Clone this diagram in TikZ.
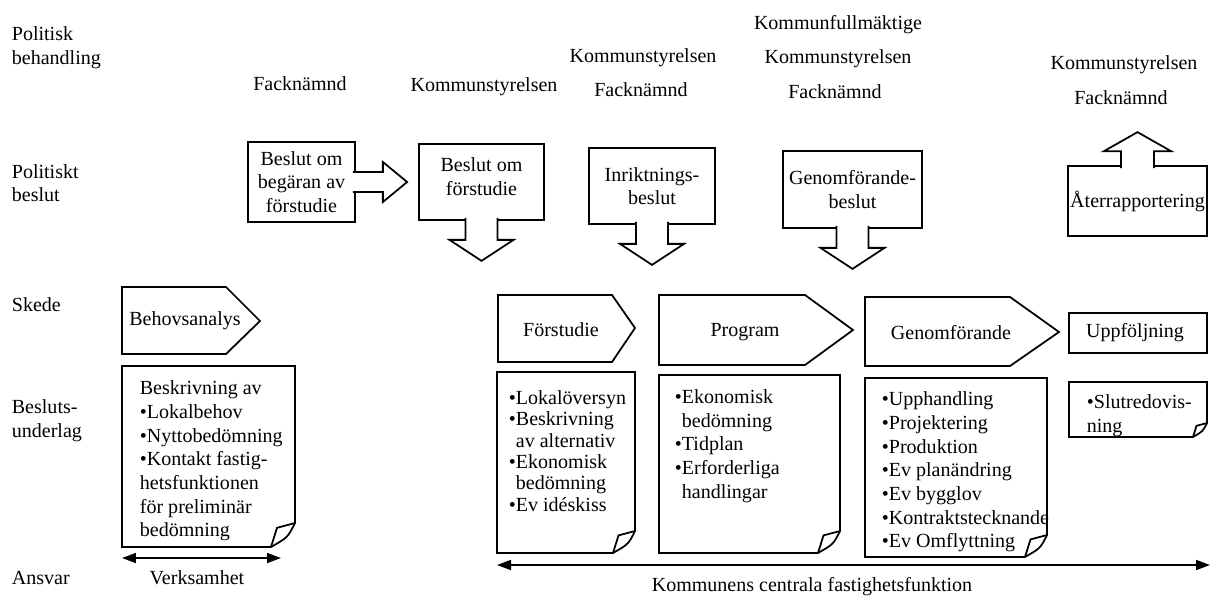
\documentclass[tikz,border=0pt]{standalone}
\usepackage{fontspec}
\setmainfont{Liberation Serif}
\usetikzlibrary{calc,arrows.meta}

\begin{document}
\begin{tikzpicture}[x=0.02cm, y=-0.02cm, line width=1pt,
  font=\fontsize{11.4}{13.45}\selectfont]
  \tikzstyle{rubrik}=[anchor=west, align=left, inner sep=0pt]
  \tikzstyle{organ}=[inner sep=0pt]
  \tikzstyle{beslut}=[draw, inner sep=0pt, align=center]
  \tikzstyle{blk}=[draw, fill=white]
  \tikzstyle{skede}=[draw]
  \tikzstyle{lista}=[anchor=west, align=left, inner sep=0pt]
  \tikzstyle{ansvar}=[{Triangle[length=2.8mm,width=2mm]}-{Triangle[length=2.8mm,width=2mm]}]

  \useasboundingbox (0,0) rectangle (1212,598);

  \node[rubrik] (polbeh) at (11,48) {Politisk\\behandling};
  \node[rubrik] (polbes) at (11,183) {Politiskt\\beslut};
  \node[rubrik] (skede) at (11,305) {Skede};
  \node[rubrik] (underlag) at (11,421) {Besluts-\\underlag};
  \node[rubrik] (ansvar) at (11,578) {Ansvar};

  \node[organ] (fn1) at (300,84) {Facknämnd};
  \node[organ] (ks1) at (484,87) {Kommunstyrelsen};
  \node[organ] (ks2) at (643,58) {Kommunstyrelsen};
  \node[organ] (fn2) at (641,90) {Facknämnd};
  \node[organ] (kf) at (838,25) {Kommunfullmäktige};
  \node[organ] (ks3) at (838,59) {Kommunstyrelsen};
  \node[organ] (fn3) at (835,92) {Facknämnd};
  \node[organ] (ks4) at (1124,65) {Kommunstyrelsen};
  \node[organ] (fn4) at (1121,98) {Facknämnd};

  \node[beslut, minimum width=2.14cm, minimum height=1.6cm] (b1) at (301.5,182) {Beslut om\\begäran av\\förstudie};
  \node[beslut, minimum width=2.5cm, minimum height=1.52cm, text depth=6pt] (b2) at (481.5,182) {Beslut om\\förstudie};
  \node[beslut, minimum width=2.52cm, minimum height=1.52cm] (b3) at (652,186) {Inriktnings-\\beslut};
  \node[beslut, minimum width=2.78cm, minimum height=1.54cm] (b4) at (852.5,189.5) {Genomförande-\\beslut};
  \node[beslut, minimum width=2.78cm, minimum height=1.4cm] (b5) at (1137.5,201) {Återrapportering};

  \draw[blk] ($(b1.east)+(-3,-10)$) -- ++(30,0) -- ++(0,-10) -- ($(b2.west)+(-11,0)$)
    -- ($(b1.east)+(27,20)$) -- ++(0,-10) -- ++(-30,0);
  \foreach \n in {b2,b3,b4}
    \draw[blk] ($(\n.south)+(-16,-3)$) -- ++(0,22) -- ++(-16,0) -- ++(32,21)
      -- ++(32,-21) -- ++(-16,0) -- ++(0,-22);
  \draw[blk] ($(b5.north)+(-16.5,3)$) -- ++(0,-17) -- ++(-17,0) -- ++(33.5,-19)
    -- ++(33.5,19) -- ++(-17,0) -- ++(0,17);

  \draw[skede] (122,287) -- (226,287) -- (260,321) -- (226,354) -- (122,354) -- cycle;
  \draw[skede] (498,295) -- (612,295) -- (635,328) -- (612,362) -- (498,362) -- cycle;
  \draw[skede] (659,295) -- (805,295) -- (853,330) -- (805,365) -- (659,365) -- cycle;
  \draw[skede] (865,297) -- (1010,297) -- (1059,332) -- (1010,366) -- (865,366) -- cycle;
  \draw[skede] (1069,313) rectangle (1207,353);
  \node (behov) at (185,321) {Behovsanalys};
  \node (forst) at (561,330) {Förstudie};
  \node (prog) at (745,332) {Program};
  \node (genomf) at (951,333) {Genomförande};
  \node (uppf) at (1135,333) {Uppföljning};

  \foreach \l/\t/\r/\b/\f in {122/366/295/547/24, 497/372/635/553/22, 659/375/840/553/22,
      865/378/1047/557/22, 1069/382/1207/437/14}
  {
    \draw (\l,\t) -- (\r,\t) -- (\r,\b-\f) .. controls (\r-0.3*\f,\b-0.4*\f) .. (\r-\f,\b)
      -- (\l,\b) -- cycle;
    \draw (\r-\f,\b) -- (\r-0.75*\f,\b-0.8*\f) -- (\r,\b-\f);
  }
  \node[lista] (u1) at (139,461) {Beskrivning av\\•Lokalbehov\\•Nyttobedömning\\•Kontakt fastig-\\hetsfunktionen\\för preliminär\\bedömning};
  \node[lista, font=\fontsize{11.4}{12.15}\selectfont] (u2) at (508,451) {•Lokalöversyn\\•Beskrivning\\\phantom{•}av alternativ\\•Ekonomisk\\\phantom{•}bedömning\\•Ev idéskiss};
  \node[lista] (u3) at (674,446) {•Ekonomisk\\\phantom{•}bedömning\\•Tidplan\\•Erforderliga\\\phantom{•}handlingar};
  \node[lista] (u4) at (881,472) {•Upphandling\\•Projektering\\•Produktion\\•Ev planändring\\•Ev bygglov\\•Kontraktstecknande\\•Ev Omflyttning};
  \node[lista] (u5) at (1086,416) {•Slutredovis-\\ning};

  \coordinate (v1) at (122,558);
  \coordinate (v2) at (281,558);
  \draw[ansvar] (v1) -- (v2);
  \node (verks) at (197,578) {Verksamhet};
  \coordinate (k1) at (497,565);
  \coordinate (k2) at (1210,565);
  \draw[ansvar] (k1) -- (k2);
  \node (kcf) at (812,587) {Kommunens centrala fastighetsfunktion};
\end{tikzpicture}
\end{document}
